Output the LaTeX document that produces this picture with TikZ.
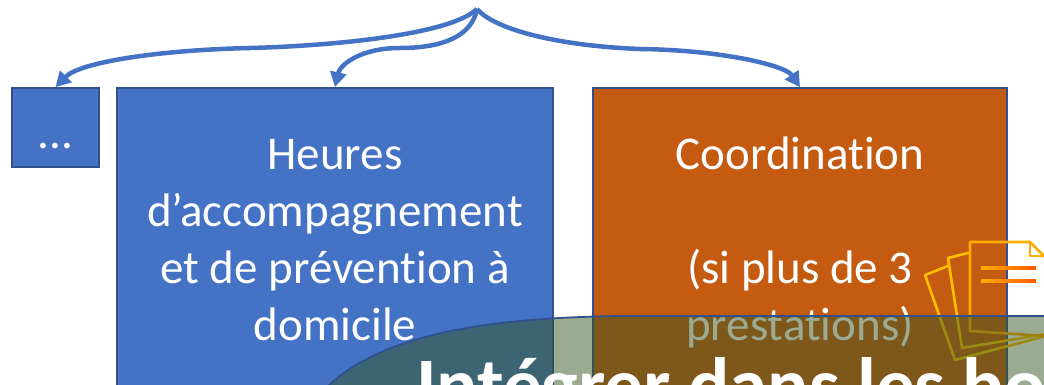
\documentclass[tikz,border=0pt]{standalone}
\usepackage{fontspec}
\setmainfont{Carlito}[Ligatures={NoCommon}]
\usetikzlibrary{arrows.meta}
\definecolor{boxblue}{HTML}{4472C4}
\definecolor{edgeblue}{HTML}{2F528F}
\definecolor{boxorange}{HTML}{C55A11}
\definecolor{veil}{HTML}{385723}
\definecolor{iconyellow}{HTML}{FFC000}
\definecolor{iconamber}{HTML}{FFAC00}
\definecolor{iconred}{HTML}{FF5A00}
\begin{document}
\begin{tikzpicture}[x=1pt,y=-1pt,
  boxshape/.style={draw=edgeblue, line width=1.8pt, inner sep=0pt, anchor=center},
  lbl/.style={text=white, font=\fontsize{47}{57}\selectfont, anchor=base, inner sep=0pt},
  conn/.style={draw=boxblue, line width=4.5pt, -{Triangle[length=15pt,width=16pt]}},
  iconline/.style={line width=2.6pt, line join=round, line cap=round}]
\useasboundingbox (0,0) rectangle (1044,385);
\clip (0,0) rectangle (1044,385);
% boxes
\node[boxshape, fill=boxblue, minimum width=87pt, minimum height=79pt] (dots) at (55.5,127.5) {};
\node[boxshape, fill=boxblue, minimum width=436pt, minimum height=332pt] (heures) at (335,254) {};
\node[boxshape, fill=boxorange, minimum width=414pt, minimum height=332pt] (coord) at (800,254) {};
% labels
\node[lbl] (dotstext) at (55.5,149) {...};
\node[lbl] (h1) at (335,169) {Heures};
\node[lbl] (h2) at (335,226) {d’accompagnement};
\node[lbl] (h3) at (335,283) {et de prévention à};
\node[lbl] (h4) at (335,340) {domicile};
\node[lbl] (c1) at (800,169) {Coordination};
\node[lbl] (c2) at (800,283) {(si plus de 3};
\node[lbl] (c3) at (800,340) {prestations)};
% connectors
\coordinate (apex) at (477,9);
\draw[conn] (apex) .. controls (450,35) and (330,46) .. (250,48)
                   .. controls (160,50) and (80,62) .. (dots.north);
\draw[conn] (apex) .. controls (472,35) and (445,48) .. (400,48)
                   .. controls (360,48) and (340,65) .. (heures.north);
\draw[conn] (apex) .. controls (495,30) and (560,46) .. (640,49)
                   .. controls (720,50) and (785,65) .. (coord.north);
% documents icon
\draw[iconline, iconyellow] (948,266) -- (925,275) -- (955,360) -- (1046,336);
\draw[iconline, iconyellow] (968,253) -- (948,258) -- (962,348) -- (1046,334);
\draw[iconline, iconamber] (1046,258) -- (1030,242) -- (970,242) -- (970,331) -- (1046,336);
\draw[iconline, iconamber] (1030,242) -- (1030,256) -- (1046,256);
\shade[left color=iconamber, right color=iconred] (981,266.7) rectangle (1036,269.3);
\shade[left color=iconamber, right color=iconred] (981,279.7) rectangle (1036,282.3);
% veil shape
\fill[veil, opacity=0.5] (322,392) .. controls (372,339) and (470,318) .. (620,316)
      -- (1050,316) -- (1050,400) -- (322,400) -- cycle;
\draw[edgeblue, line width=1.8pt] (322,392) .. controls (372,339) and (470,318) .. (620,316)
      -- (1050,316);
\node[text=white, font=\bfseries\fontsize{77}{90}\selectfont, anchor=base west, inner sep=0pt] (title) at (416,411) {Intégrer dans les bou};
\end{tikzpicture}
\end{document}
